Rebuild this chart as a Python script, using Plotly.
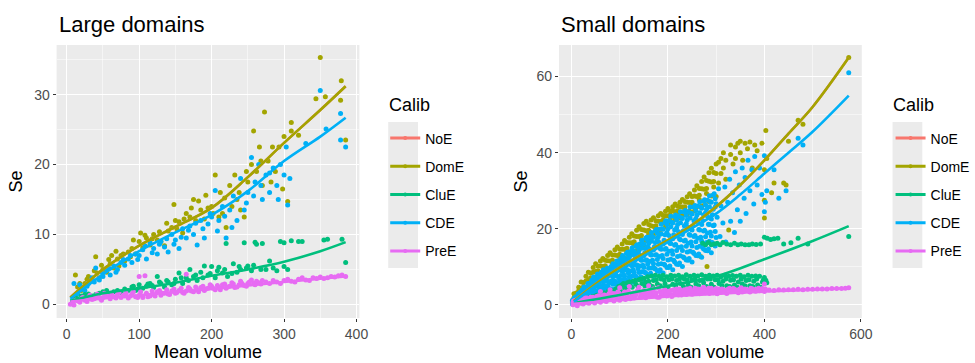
import plotly.graph_objects as go

# ---------------- data ----------------
CALIBS = ["NoE", "DomE", "CluE", "CDE", "PreE"]
COLORS = {"NoE": "#F8766D", "DomE": "#A3A500", "CluE": "#00BF7D", "CDE": "#00B0F6", "PreE": "#E76BF3"}

# Large domains: scatter points (Mean volume, Se)
L_DOME_PTS = [(12,4.2),(15,2.5),(18,3.0),(20,2.0),(25,3.0),(28,3.6),(30,4.0),(35,3.5),(38,4.8),(40,6.8),
              (42,4.5),(45,3.8),(48,5.6),(50,5.0),(55,4.6),(58,6.4),(60,5.8),(62,7.0),(65,5.2),(68,7.6),
              (70,6.5),(72,5.5),(75,7.0),(78,7.2),(80,6.2),(85,7.5),(88,6.8),(90,8.0),(92,9.2),(95,7.2),
              (100,9.0),(102,10.2),(105,8.1),(108,9.9),(110,9.5),(115,8.5),(118,9.4),(120,10.0),(125,9.2),
              (128,10.4),(130,9.0),(135,8.4),(138,11.6),(140,10.5),(145,11.0),(148,14.3),(150,12.0),
              (152,10.8),(155,11.8),(160,10.2),(162,12.2),(165,13.0),(170,12.5),(172,13.8),(175,15.0),
              (178,12.0),(182,14.8),(185,13.5),(190,12.2),(192,15.6),(195,13.8),(200,14.0),(202,13.0),
              (205,18.5),(210,12.5),(212,16.0),(215,13.0),(218,15.2),(220,11.0),(225,17.0),(228,14.0),
              (232,18.5),(235,15.0),(238,16.0),(240,13.5),(245,12.5),(248,19.0),(250,17.5),(255,20.0),
              (258,24.8),(262,19.0),(266,22.5),(268,20.5),(270,17.0),(273,27.5),(278,20.5),(282,17.5),
              (284,22.5),(288,19.0),(293,22.5),(298,16.5),(300,24.0),(305,14.7),(310,26.0),(310,24.8),
              (320,24.2),(344,29.4),(350,35.3),(357,29.7),(378,29.2),(379,32.0),(385,23.5)]
L_CDE_PTS = [(10,3.0),(15,1.5),(18,2.8),(20,2.2),(25,2.0),(28,2.6),(30,3.0),(35,3.8),(38,3.2),(40,5.2),
             (45,3.5),(48,4.6),(50,4.0),(55,5.0),(58,5.2),(60,4.2),(65,5.5),(68,4.6),(70,5.0),(75,6.0),
             (78,6.4),(80,5.6),(85,6.5),(88,7.0),(90,6.0),(95,7.2),(98,6.4),(100,7.0),(105,7.8),(108,8.4),
             (110,6.5),(115,8.8),(118,7.4),(120,8.0),(125,7.2),(128,8.6),(130,9.0),(135,8.2),(138,9.4),
             (140,7.5),(145,10.0),(148,8.6),(150,9.2),(155,8.0),(158,9.6),(160,10.8),(165,9.5),(168,10.6),
             (170,11.2),(175,10.0),(178,11.6),(180,8.5),(185,12.0),(188,10.8),(190,9.5),(195,11.5),
             (198,13.0),(200,12.5),(205,16.3),(208,10.5),(210,12.0),(215,14.0),(218,12.6),(220,9.5),
             (225,13.5),(228,11.0),(230,15.5),(235,12.0),(240,18.0),(245,13.5),(248,14.5),(250,16.0),
             (255,21.0),(258,15.5),(260,17.5),(265,20.0),(268,17.0),(270,15.0),(275,18.5),(280,16.0),
             (280,18.8),(285,19.5),(290,17.0),(292,15.0),(295,20.0),(300,18.5),(303,22.5),(305,14.2),
             (308,18.0),(330,23.0),(350,30.6),(358,25.1),(378,27.3),(378,23.5),(385,22.5)]
L_CLUE_PTS = [(8,0.5),(12,1.0),(15,0.8),(20,1.2),(25,1.4),(30,1.5),(35,1.2),(40,1.4),(45,1.6),(50,1.8),
              (55,2.0),(60,1.6),(65,1.8),(70,2.0),(75,1.7),(80,2.2),(85,2.0),(90,2.5),(92,2.6),(95,2.0),
              (98,2.2),(100,2.8),(105,2.3),(110,2.6),(112,2.9),(115,3.0),(118,2.7),(120,2.4),(125,4.0),
              (128,3.2),(130,3.0),(135,2.5),(138,3.4),(140,3.2),(145,2.8),(148,3.0),(150,3.6),(155,4.5),
              (158,3.8),(160,3.0),(165,3.8),(168,3.4),(170,5.0),(175,4.0),(178,4.2),(180,3.4),(185,4.6),
              (188,3.8),(190,5.5),(195,4.2),(198,4.4),(200,5.4),(205,3.8),(208,4.8),(210,5.3),(215,4.5),
              (218,5.0),(220,8.7),(222,4.0),(228,4.4),(230,5.8),(235,4.6),(238,5.4),(240,5.0),(245,8.8),
              (248,5.2),(250,5.5),(255,4.8),(258,5.6),(260,8.9),(262,8.6),(268,5.0),(270,8.7),(275,5.0),
              (280,6.2),(285,5.2),(290,4.8),(295,9.0),(300,8.8),(300,5.4),(305,5.0),(310,9.1),(320,9.0),
              (325,9.0),(355,9.2),(360,9.3),(380,9.3),(385,6.0)]
L_PREE_PTS = [(5,0.0),(8,0.3),(10,-0.1),(12,0.6),(15,0.5),(18,0.3),(20,0.8),(22,1.0),(25,0.6),(28,0.4),
              (30,1.0),(32,1.3),(35,0.7),(38,0.8),(40,1.2),(42,1.5),(45,0.9),(48,0.6),(50,1.0),(52,1.6),
              (55,1.3),(58,1.1),(60,0.8),(62,1.4),(65,1.1),(68,0.9),(70,1.4),(72,1.7),(75,1.0),(78,1.3),
              (80,1.2),(82,1.6),(85,0.9),(88,1.2),(90,1.5),(92,1.8),(95,1.1),(98,1.0),(100,4.0),(100,1.3),
              (102,1.8),(105,1.0),(108,4.1),(110,1.6),(112,1.1),(115,1.2),(118,1.9),(120,1.4),(122,1.2),
              (125,1.8),(128,2.0),(130,1.3),(132,1.6),(135,1.6),(138,2.1),(140,1.5),(142,1.4),(145,1.9),
              (148,2.2),(150,1.6),(152,1.7),(155,2.0),(158,2.3),(160,1.7),(162,1.6),(165,4.3),(165,1.9),
              (168,2.4),(170,2.2),(172,1.9),(175,1.8),(178,2.5),(180,2.1),(182,1.8),(185,2.4),(188,2.6),
              (190,2.0),(192,2.2),(195,2.3),(198,2.8),(200,2.6),(202,2.3),(205,2.1),(208,2.7),(210,2.4),
              (212,2.1),(215,2.8),(218,2.9),(220,2.3),(222,2.5),(225,2.6),(228,3.1),(230,2.9),(232,2.4),
              (235,2.5),(238,2.8),(240,3.3),(242,3.0),(245,2.7),(248,2.6),(250,3.0),(252,3.2),(255,3.5),
              (258,3.0),(260,2.8),(262,3.3),(265,3.1),(268,2.9),(270,3.4),(275,3.2),(280,3.0),(285,3.4),
              (290,3.2),(295,3.0),(300,3.4),(305,3.6),(310,3.3),(315,3.2),(320,3.6),(325,3.8),(330,3.5),
              (335,3.4),(340,3.8),(345,3.7),(350,3.9),(355,3.7),(360,3.8),(365,4.0),(370,3.9),(375,4.1),
              (380,4.2),(385,4.0)]

# Large domains: smooth fits
L_DOME_FIT_X = [5, 25, 50, 100, 150, 200, 250, 300, 350, 385]
L_DOME_FIT_Y = [1.0, 2.8, 5.0, 8.4, 11.1, 13.8, 18.2, 23.1, 27.8, 31.2]
L_CDE_FIT_X = [5, 50, 100, 150, 200, 250, 300, 350, 385]
L_CDE_FIT_Y = [0.8, 4.3, 7.6, 10.3, 12.8, 16.2, 20.5, 24.0, 26.7]
L_CLUE_FIT_X = [5, 50, 100, 150, 200, 250, 300, 350, 385]
L_CLUE_FIT_Y = [0.5, 1.6, 2.3, 3.1, 4.1, 5.0, 6.1, 7.6, 8.9]
L_PREE_FIT_X = [5, 100, 200, 300, 385]
L_PREE_FIT_Y = [0.4, 1.3, 2.2, 3.2, 4.0]

# Small domains: scatter points
S_DOME_PTS = [(5,0.9),(5,1.9),(5,2.9),(10,1.7),(10,3.1),(10,2.3),(15,1.4),(15,3.7),(15,4.6),(20,2.5),
              (20,4.3),(20,6.0),(25,4.1),(25,5.9),(25,4.8),(30,3.4),(30,6.3),(30,7.5),(35,4.6),(35,6.6),
              (35,8.6),(40,6.4),(40,8.4),(40,7.1),(45,5.6),(45,8.6),(45,9.8),(50,6.8),(50,8.8),(50,10.8),
              (55,8.2),(55,10.2),(55,9.0),(60,7.1),(60,10.2),(60,11.5),(65,8.0),(65,10.1),(65,12.2),
              (70,9.5),(70,11.7),(70,10.3),(75,8.3),(75,11.6),(75,13.0),(80,9.3),(80,11.5),(80,13.7),
              (85,10.9),(85,13.1),(85,11.7),(90,9.8),(90,13.1),(90,14.5),(95,10.8),(95,13.0),(95,15.2),
              (100,12.4),(100,14.6),(100,13.3),(105,11.3),(105,14.6),(105,16.0),(110,12.4),(110,14.6),
              (110,16.9),(115,14.0),(115,16.4),(115,14.9),(120,12.8),(120,16.3),(120,17.8),(125,13.9),
              (125,16.3),(125,18.7),(130,15.6),(130,18.1),(130,16.6),(135,14.3),(135,18.0),(135,19.6),
              (140,15.4),(140,18.0),(140,20.5),(145,17.2),(145,19.8),(145,18.2),(150,15.8),(150,19.7),
              (150,21.4),(155,16.9),(155,19.5),(155,22.0),(160,18.6),(160,21.1),(160,19.6),(165,17.3),
              (165,20.8),(165,22.3),(170,18.4),(170,20.6),(170,22.9),(175,19.9),(175,22.1),(175,20.8),
              (180,18.8),(180,22.0),(180,23.4),(185,19.8),(185,21.9),(185,24.0),(190,21.5),(190,23.5),
              (190,22.3),(195,20.5),(195,23.4),(195,24.6),(200,21.5),(200,23.4),(200,25.3),(205,22.8),
              (205,24.7),(205,23.6),(210,21.8),(210,24.7),(210,25.8),(215,22.6),(215,24.5),(215,26.5),
              (220,24.0),(220,25.9),(220,24.7),(225,22.8),(225,25.8),(225,27.0),(230,23.6),(230,25.7),
              (230,27.7),(235,25.0),(235,27.2),(235,25.8),(240,23.7),(240,27.0),(240,28.4),(245,24.6),
              (245,26.9),(245,29.2),(250,26.1),(250,28.5),(250,27.0),(255,24.7),(255,28.6),(255,30.2),
              (260,25.8),(260,28.5),(260,31.3),(265,27.7),(265,30.6),(265,28.8),(268,12.7),(270,26.0),
              (270,30.5),(270,32.4),(275,27.2),(275,30.4),(275,33.6),(280,29.3),(280,32.7),(280,30.6),
              (281,10.1),(285,27.2),(285,32.5),(285,34.7),(290,28.6),(290,32.3),(290,35.9),(295,31.0),
              (295,34.8),(295,32.4),(300,28.5),(300,34.5),(300,37.0),(305,32.0),(305,37.5),(310,38.5),
              (310,34.5),(315,36.0),(315,40.0),(320,38.0),(320,33.0),(326,19.7),(330,39.5),(330,42.0),
              (335,37.0),(340,41.5),(340,38.5),(345,42.5),(350,40.0),(350,43.0),(355,38.0),(360,42.5),
              (365,41.0),(370,42.8),(375,36.0),(380,42.0),(385,40.5),(395,42.5),(400,22.8),(400,27.5),
              (400,35.5),(403,45.8),(405,38.5),(415,29.5),(420,32.0),(440,32.0),(445,31.5),(450,43.0),
              (470,48.5),(480,47.5),(575,65.0)]
S_CDE_PTS = [(2,0.2),(2,0.6),(2,0.9),(2,1.2),(6,0.6),(6,1.1),(6,1.6),(6,1.9),(10,0.4),(10,1.0),(10,1.6),
             (10,2.2),(14,1.0),(14,1.7),(14,2.3),(14,2.9),(18,1.0),(18,1.7),(18,2.8),(18,3.3),(22,1.2),
             (22,2.1),(22,3.0),(22,3.9),(26,1.8),(26,2.9),(26,4.0),(26,4.7),(30,1.3),(30,2.4),(30,3.5),
             (30,4.6),(34,2.1),(34,3.4),(34,4.6),(34,5.6),(38,2.0),(38,3.1),(38,5.1),(38,5.7),(42,2.1),
             (42,3.7),(42,5.1),(42,6.5),(46,3.0),(46,4.6),(46,6.3),(46,7.3),(50,2.1),(50,3.8),(50,5.5),
             (50,7.2),(54,3.1),(54,4.9),(54,6.6),(54,8.1),(58,3.0),(58,4.5),(58,7.0),(58,7.9),(62,3.1),
             (62,5.0),(62,6.8),(62,8.6),(66,4.2),(66,6.0),(66,8.0),(66,9.2),(70,3.1),(70,5.0),(70,6.8),
             (70,8.7),(74,4.2),(74,6.2),(74,8.0),(74,9.6),(78,4.1),(78,5.7),(78,8.5),(78,9.5),(82,4.2),
             (82,6.3),(82,8.2),(82,10.1),(86,5.4),(86,7.4),(86,9.5),(86,10.8),(90,4.2),(90,6.3),(90,8.4),
             (90,10.5),(94,5.3),(94,7.6),(94,9.7),(94,11.5),(98,5.2),(98,7.1),(98,10.2),(98,11.4),
             (102,5.2),(102,7.7),(102,9.9),(102,12.1),(106,6.6),(106,8.9),(106,11.4),(106,13.0),(110,5.1),
             (110,7.5),(110,9.9),(110,12.3),(114,6.4),(114,9.1),(114,11.4),(114,13.5),(118,6.1),(118,8.3),
             (118,11.9),(118,13.2),(122,6.1),(122,8.9),(122,11.5),(122,14.0),(126,7.6),(126,10.3),
             (126,13.2),(126,15.0),(130,5.9),(130,8.6),(130,11.4),(130,14.1),(134,7.4),(134,10.4),
             (134,13.1),(134,15.5),(138,7.0),(138,9.5),(138,13.6),(138,15.1),(142,7.0),(142,10.2),
             (142,13.1),(142,16.0),(146,8.7),(146,11.7),(146,14.9),(146,17.0),(150,6.7),(150,9.8),
             (150,12.9),(150,16.0),(154,8.4),(154,11.7),(154,14.8),(154,17.5),(158,7.9),(158,10.7),
             (158,15.3),(158,16.9),(162,7.9),(162,11.4),(162,14.7),(162,17.9),(166,9.7),(166,13.1),
             (166,16.7),(166,19.0),(170,7.5),(170,10.8),(170,14.4),(170,17.8),(174,9.4),(174,13.1),
             (174,16.4),(174,19.4),(178,8.9),(178,11.9),(178,17.1),(178,18.9),(182,8.8),(182,12.7),
             (182,16.4),(182,19.9),(186,10.8),(186,14.6),(186,18.6),(186,21.2),(190,8.4),(190,12.2),
             (190,16.0),(190,19.9),(194,10.4),(194,14.6),(194,18.4),(194,21.7),(198,9.8),(198,13.3),
             (198,19.0),(198,21.1),(202,9.8),(202,14.1),(202,18.2),(202,22.1),(206,12.0),(206,16.1),
             (206,20.5),(206,23.3),(210,9.2),(210,13.3),(210,17.4),(210,21.5),(214,11.3),(214,15.7),
             (214,19.7),(214,23.2),(218,10.7),(218,14.3),(218,20.2),(218,22.3),(222,10.6),(222,15.1),
             (222,19.2),(222,23.3),(226,12.9),(226,17.1),(226,21.6),(226,24.5),(230,10.1),(230,14.3),
             (230,18.5),(230,22.7),(234,12.3),(234,16.8),(234,20.8),(234,24.4),(238,11.8),(238,15.4),
             (238,21.4),(238,23.5),(242,11.7),(242,16.2),(242,20.4),(242,24.5),(246,14.1),(246,18.3),
             (246,22.8),(246,25.7),(250,11.3),(250,15.5),(250,19.7),(250,23.9),(254,13.5),(254,18.0),
             (254,22.1),(254,25.7),(258,13.0),(258,16.6),(258,22.7),(258,24.8),(262,12.9),(262,17.5),
             (262,21.8),(262,26.0),(266,15.4),(266,19.7),(266,24.2),(266,27.1),(270,12.5),(270,16.8),
             (270,21.1),(270,25.4),(274,14.7),(274,19.4),(274,23.6),(274,27.3),(278,14.3),(278,17.9),
             (278,24.2),(278,26.3),(282,14.2),(282,18.9),(282,23.3),(282,27.5),(286,16.7),(286,21.1),
             (286,25.8),(286,28.7),(290,13.7),(290,18.1),(290,22.6),(290,27.0),(294,16.0),(294,20.8),
             (294,25.1),(294,28.9),(298,15.5),(298,19.3),(298,25.7),(298,27.9),
             (52,5.1),(56,3.5),(60,7.2),(64,4.9),(68,8.8),(72,6.5),(76,4.7),(80,8.7),(84,6.2),(88,10.4),
             (92,7.9),(96,5.8),
             (100,6.3),(100,10.8),(104,9.0),(104,5.5),(108,8.0),(108,12.3),(112,10.6),(112,6.6),(116,9.2),
             (116,13.8),(120,7.4),(120,12.6),(124,10.4),(124,6.4),(128,9.2),(128,14.1),(132,12.1),
             (132,7.6),(136,10.5),(136,15.8),(140,8.5),(140,14.3),(144,11.8),(144,7.4),(148,10.4),
             (148,16.0),(152,13.7),(152,8.6),(156,11.8),(156,17.8),(160,9.6),(160,16.1),(164,13.2),
             (164,8.3),(168,11.7),(168,17.9),(172,15.3),(172,9.6),(176,13.2),(176,19.8),(180,10.7),
             (180,17.9),(184,14.8),(184,9.2),(188,13.0),(188,20.0),(192,17.0),(192,10.7),(196,14.8),
             (196,22.1),(200,11.8),(200,20.0),(204,16.2),(204,10.2),(208,14.2),(208,21.7),(212,18.4),
             (212,11.7),(216,15.9),(216,23.6),(220,12.7),(220,21.1),(224,17.3),(224,11.0),(228,15.3),
             (228,22.9),(232,19.5),(232,12.6),(236,17.0),(236,24.8),(240,13.9),(240,22.3),(244,18.5),
             (244,12.2),(248,16.5),(248,24.1),(252,20.8),(252,13.8),(256,18.2),(256,26.1),(260,15.1),
             (260,23.6),(264,19.8),(264,13.4),(268,17.8),(268,25.7),(272,22.2),(272,15.1),(276,19.6),
             (276,27.6),(280,16.4),(280,25.1),(284,21.2),(284,14.7),(288,19.1),(288,27.1),(292,23.7),
             (292,16.4),(296,21.0),(296,29.2),(300,17.7),(300,26.6),
             (302,23.0),(305,30.5),(308,18.0),(310,26.0),(314,21.5),(318,31.0),(320,16.5),(324,27.0),
             (328,33.0),(330,22.0),(334,29.5),(338,19.0),(340,35.0),(344,25.0),(348,31.5),(350,22.0),
             (354,36.0),(358,28.0),(360,33.5),(362,24.0),(366,38.0),(370,30.0),(374,35.5),(378,26.5),
             (380,39.0),(385,31.5),(390,36.0),(395,29.0),(400,39.2),(400,24.5),(402,27.0),(405,30.0),
             (420,35.5),(430,28.0),(445,30.0),(470,43.8),(480,42.0),(575,61.0)]
S_CLUE_PTS = [(5,0.5),(12,0.8),(20,1.2),(28,1.5),(36,1.8),(44,2.2),(52,2.5),(60,2.8),(68,3.2),(76,3.5),
              (84,3.8),(92,4.2),(98,4.8),(104,5.2),(110,4.5),(116,5.8),(122,5.0),(128,6.2),(134,5.4),
              (140,6.6),(146,5.6),(150,7.0),(154,6.0),(158,7.4),(162,5.2),(166,7.6),(170,6.4),(174,7.8),
              (178,5.5),(182,7.5),(186,6.8),(190,7.8),(194,5.6),(198,7.4),(202,6.6),(206,7.8),(210,5.4),
              (214,7.6),(218,6.4),(222,7.8),(226,5.6),(230,7.4),(234,6.8),(238,7.9),(242,5.2),(246,7.5),
              (250,6.6),(254,7.8),(258,5.5),(262,7.6),(266,6.4),(270,7.9),(274,5.8),(278,7.5),(282,6.8),
              (286,7.8),(290,5.4),(294,7.6),(298,6.6),(302,7.8),(306,5.6),(310,7.4),(314,6.2),(318,7.8),
              (322,5.0),(326,7.5),(330,6.5),(334,7.7),(338,5.2),(342,7.5),(346,6.0),(350,7.8),(354,5.5),
              (358,7.4),(362,6.4),(366,7.8),(370,5.0),(374,7.5),(378,6.2),(382,7.6),(386,5.2),(390,7.5),
              (396,6.0),(400,7.2),(403,6.5),(405,5.8),
              (102,3.6),(108,5.6),(114,4.2),(120,6.0),(126,4.6),(132,6.4),(138,4.8),(144,6.8),(152,5.0),
              (160,6.2),(168,4.8),(176,6.6),(184,5.0),(192,6.6),(200,4.6),(208,6.8),(216,5.0),(224,6.8),
              (232,4.8),(240,6.6),(248,4.6),(256,6.8),(264,5.0),(272,6.6),(280,4.8),(288,6.8),(296,4.6),
              (304,6.6),(312,5.0),(320,6.8),(328,4.8),(336,6.6),(344,4.6),(352,6.8),(360,5.0),(368,6.6),
              (376,4.8),(384,6.8),(392,4.6),(398,6.6),
              (272,16.2),(278,15.8),(284,16.4),(290,15.8),(296,16.0),(302,16.2),(308,15.8),(314,16.4),
              (322,16.0),(330,15.8),(338,16.2),(345,15.8),(352,16.0),(360,15.8),(368,15.8),(375,16.0),
              (383,15.9),(392,16.0),(400,17.8),(406,17.5),(413,17.2),(420,17.4),(428,17.5),(440,16.0),
              (455,16.3),(470,17.5),(490,16.0),(575,18.0)]
S_PREE_PTS = [(3,0.0),(3,0.6),(8,0.3),(8,1.2),(12,-0.2),(14,0.8),(18,0.4),(20,1.5),(24,0.2),(26,1.0),
              (30,0.6),(32,1.8),(36,0.4),(38,1.2),(42,0.8),(44,2.0),(48,0.5),(50,1.4),(54,1.0),(56,2.4),
              (60,3.5),(60,0.7),(62,1.6),(66,1.2),(68,2.6),(72,0.9),(74,1.8),(78,3.0),(80,4.0),(82,1.4),
              (84,2.2),(88,1.0),(90,2.8),(94,1.6),(96,3.4),(100,4.5),(100,1.2),(102,2.4),(106,1.8),
              (108,3.0),(112,1.4),(114,2.6),(118,3.6),(120,4.8),(122,1.6),(124,2.2),(128,3.2),(130,1.8),
              (134,2.8),(138,4.0),(140,4.6),(142,2.0),(144,3.0),(148,2.4),(150,3.8),(154,1.9),(156,2.9),
              (160,5.0),(160,3.4),(164,2.2),(166,3.0),(170,4.2),(172,2.4),(176,3.2),(180,4.5),(182,2.0),
              (184,3.6),(188,2.6),(190,3.2),(194,4.0),(198,2.3),(200,3.4),(204,2.8),(206,3.8),(210,2.5),
              (214,3.2),(218,4.2),(222,2.6),(226,3.6),(230,2.9),(234,4.0),(238,2.7),(242,3.4),(246,4.4),
              (250,2.8),(254,3.6),(258,3.0),(262,4.2),(266,2.9),(270,3.5),(274,4.6),(278,3.1),(282,3.8),
              (286,3.0),(290,4.4),(294,3.2),(298,3.8),(302,2.9),(306,4.2),(310,3.4),(316,3.9),(322,3.0),
              (328,4.4),(334,3.5),(340,4.0),(346,3.2),(352,4.5),(358,3.6),(364,4.0),(370,3.4),(376,4.2),
              (382,3.6),(388,4.4),(394,3.8),(400,5.5),(400,3.5),(402,4.2),(420,3.8),(440,3.9),(460,4.0),
              (480,4.0),(500,4.1),(520,4.2),(540,4.3),(560,4.3),(575,4.5),
              (4,1.0),(10,0.8),(16,1.4),(22,0.9),(28,1.8),(34,1.1),(40,2.0),(46,1.2),(52,2.2),(58,1.3),
              (64,2.4),(70,1.5),(76,2.6),(82,2.0),(86,3.0),(92,2.2),(98,3.2),(104,2.0),(110,3.4),(116,2.2),
              (126,3.0),(132,2.4),(136,3.6),(146,2.0),(152,3.0),(158,2.5),(168,3.8),(174,2.8),(178,2.0),
              (186,3.0),(192,3.8),(196,2.7),(202,3.6),(208,2.2),(212,4.0),(216,2.8),(220,3.5),(224,4.2),
              (228,2.6),(232,3.4),(236,3.0),(240,4.2),(244,3.2),(248,3.8),(252,3.0),(256,4.4),(260,3.4),
              (264,3.6),(268,4.2),(272,3.1),(276,3.8),(280,3.4),(284,4.4),(288,3.6),(292,4.0),(296,3.4),
              (300,4.3),(304,3.6),(308,3.8),(312,4.2),(318,3.4),(324,4.1),(330,3.6),(336,4.3),(342,3.7),
              (348,4.1),(354,3.4),(360,4.2),(366,3.7),(372,4.4),(378,3.9),(384,4.1),(390,3.7),(396,4.3),
              (410,3.9),(430,4.0),(450,4.0),(470,4.1),(490,4.1),(510,4.2),(530,4.2),(550,4.3),(568,4.4)]

# Small domains: smooth fits
S_DOME_FIT_X = [5, 50, 100, 150, 200, 250, 300, 350, 400, 450, 500, 575]
S_DOME_FIT_Y = [1.0, 5.5, 9.8, 13.5, 17.0, 21.0, 25.8, 31.5, 38.0, 45.0, 52.0, 65.0]
S_CDE_FIT_X = [5, 50, 100, 150, 200, 250, 300, 350, 400, 450, 500, 575]
S_CDE_FIT_Y = [0.8, 5.0, 9.0, 12.8, 16.5, 20.2, 24.0, 29.0, 34.5, 40.0, 45.5, 55.0]
S_CLUE_FIT_X = [5, 100, 200, 300, 400, 500, 575]
S_CLUE_FIT_Y = [0.5, 2.6, 5.0, 7.5, 12.0, 16.8, 20.7]
S_PREE_FIT_X = [5, 100, 200, 300, 400, 500, 575]
S_PREE_FIT_Y = [0.3, 1.2, 2.2, 2.9, 3.5, 4.0, 4.4]

PANEL_TITLES = ["Large domains", "Small domains"]
X_TITLE = "Mean volume"
Y_TITLE = "Se"
LEGEND_TITLE = "Calib"

PANELS = [
    {"xa": "x", "ya": "y", "legend": "legend",
     "pts": {"DomE": L_DOME_PTS, "CluE": L_CLUE_PTS, "CDE": L_CDE_PTS, "PreE": L_PREE_PTS},
     "fits": {"NoE": (L_DOME_FIT_X, L_DOME_FIT_Y), "DomE": (L_DOME_FIT_X, L_DOME_FIT_Y),
              "CluE": (L_CLUE_FIT_X, L_CLUE_FIT_Y), "CDE": (L_CDE_FIT_X, L_CDE_FIT_Y),
              "PreE": (L_PREE_FIT_X, L_PREE_FIT_Y)}},
    {"xa": "x2", "ya": "y2", "legend": "legend2",
     "pts": {"DomE": S_DOME_PTS, "CluE": S_CLUE_PTS, "CDE": S_CDE_PTS, "PreE": S_PREE_PTS},
     "fits": {"NoE": (S_DOME_FIT_X, S_DOME_FIT_Y), "DomE": (S_DOME_FIT_X, S_DOME_FIT_Y),
              "CluE": (S_CLUE_FIT_X, S_CLUE_FIT_Y), "CDE": (S_CDE_FIT_X, S_CDE_FIT_Y),
              "PreE": (S_PREE_FIT_X, S_PREE_FIT_Y)}},
]

FONT = "Liberation Sans, Arial, sans-serif"
W, H = 975, 363

fig = go.Figure()
for p in PANELS:
    for c in ["DomE", "CDE", "CluE", "PreE"]:
        pts = p["pts"][c]
        fig.add_trace(go.Scatter(x=[a for a, b in pts], y=[b for a, b in pts], mode="markers",
                                 marker=dict(color=COLORS[c], size=5, line=dict(width=0)),
                                 xaxis=p["xa"], yaxis=p["ya"], showlegend=False, hoverinfo="skip"))
    for c in CALIBS:
        fx, fy = p["fits"][c]
        fig.add_trace(go.Scatter(x=fx, y=fy, mode="lines", line=dict(color=COLORS[c], width=2.6, shape="spline"),
                                 xaxis=p["xa"], yaxis=p["ya"], showlegend=False, hoverinfo="skip"))
    for c in CALIBS:
        fig.add_trace(go.Scatter(x=[None], y=[None], mode="lines+markers", name=c,
                                 line=dict(color=COLORS[c], width=3),
                                 marker=dict(color=COLORS[c], size=4),
                                 xaxis=p["xa"], yaxis=p["ya"], legend=p["legend"],
                                 legendgroup=p["legend"] + c, showlegend=True))


def px_x(v):
    return v / W


def px_y(v):
    return 1 - v / H


axis_common = dict(showgrid=True, gridcolor="white", gridwidth=1.1, zeroline=False, showline=False,
                   ticks="outside", ticklen=3, tickwidth=1, tickcolor="#333333",
                   tickfont=dict(family=FONT, size=14, color="#4d4d4d"),
                   automargin=False, fixedrange=True)


def minor(d):
    return dict(dtick=d, showgrid=True, gridcolor="white", gridwidth=0.5, ticks="")


legend_common = dict(xanchor="left", yanchor="top", bgcolor="rgba(0,0,0,0)",
                     font=dict(size=14, color="black"), tracegroupgap=7, itemwidth=30)

fig.update_layout(
    width=W, height=H, margin=dict(l=0, r=0, t=0, b=0),
    paper_bgcolor="white", plot_bgcolor="#EBEBEB",
    font=dict(family=FONT, color="black"),
    xaxis=dict(domain=[px_x(57), px_x(362)], range=[-14, 404], tick0=0, dtick=100, minor=minor(50),
               title=dict(text=X_TITLE, font=dict(size=18), standoff=4), anchor="y", **axis_common),
    yaxis=dict(domain=[px_y(318), px_y(45)], range=[-1.95, 37.1], tick0=0, dtick=10, minor=minor(5),
               title=dict(text=Y_TITLE, font=dict(size=18), standoff=6), anchor="x", **axis_common),
    xaxis2=dict(domain=[px_x(563), px_x(868)], range=[-26, 602], tick0=0, dtick=200, minor=minor(100),
                title=dict(text=X_TITLE, font=dict(size=18), standoff=4), anchor="y2", **axis_common),
    yaxis2=dict(domain=[px_y(318), px_y(45)], range=[-3.45, 68.3], tick0=0, dtick=20, minor=minor(10),
                title=dict(text=Y_TITLE, font=dict(size=18), standoff=4), anchor="x2", **axis_common),
    legend=dict(x=px_x(388), y=px_y(122.5), **legend_common),
    legend2=dict(x=px_x(897), y=px_y(122.5), **legend_common),
    annotations=[
        dict(text=PANEL_TITLES[0], x=px_x(57), y=px_y(24), xref="paper", yref="paper",
             xanchor="left", yanchor="middle", showarrow=False, font=dict(size=22, color="black")),
        dict(text=PANEL_TITLES[1], x=px_x(563), y=px_y(24), xref="paper", yref="paper",
             xanchor="left", yanchor="middle", showarrow=False, font=dict(size=22, color="black")),
        dict(text=LEGEND_TITLE, x=px_x(390), y=px_y(105), xref="paper", yref="paper",
             xanchor="left", yanchor="middle", showarrow=False, font=dict(size=18, color="black")),
        dict(text=LEGEND_TITLE, x=px_x(897), y=px_y(105), xref="paper", yref="paper",
             xanchor="left", yanchor="middle", showarrow=False, font=dict(size=18, color="black")),
    ],
    shapes=[
        dict(type="rect", xref="paper", yref="paper", x0=px_x(391), x1=px_x(421), y0=px_y(268), y1=px_y(122),
             fillcolor="#EBEBEB", line=dict(width=0), layer="below"),
        dict(type="rect", xref="paper", yref="paper", x0=px_x(899), x1=px_x(929), y0=px_y(268), y1=px_y(122),
             fillcolor="#EBEBEB", line=dict(width=0), layer="below"),
    ],
)

fig.write_html("out.html", config={"displayModeBar": False, "staticPlot": True},
               post_script="document.body.style.margin='0';document.documentElement.style.overflow='hidden';")
